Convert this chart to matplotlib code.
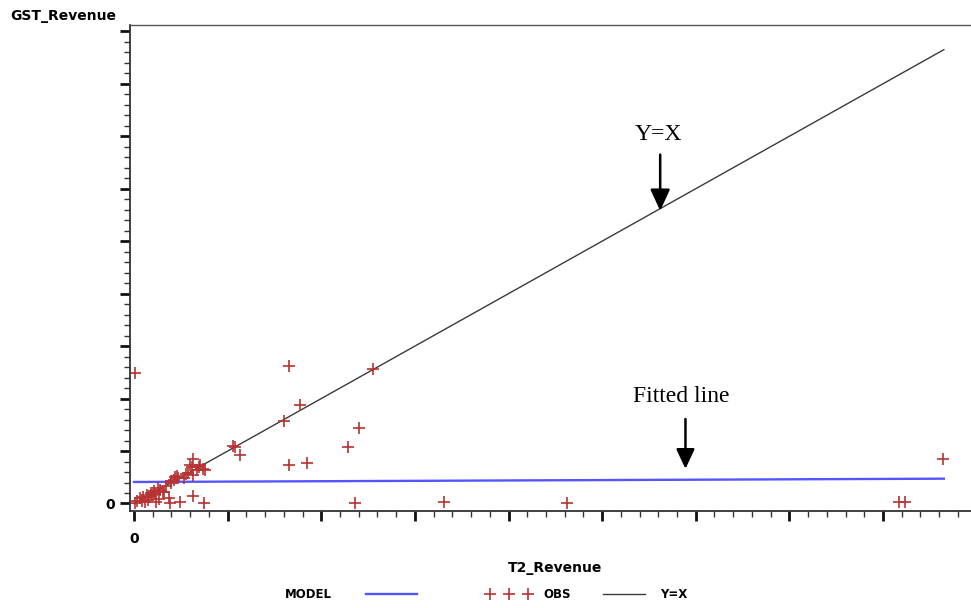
import matplotlib
matplotlib.use("Agg")
import matplotlib.pyplot as plt
from matplotlib.ticker import MultipleLocator, FuncFormatter

# ---- data (units: one major tick) ----
obs_x = [0.01, 0.03, 0.06, 0.09, 0.10, 0.12, 0.135, 0.15, 0.16, 0.18, 0.19, 0.21,
         0.22, 0.24, 0.26, 0.27, 0.28, 0.31, 0.32, 0.34, 0.37, 0.38, 0.40, 0.40,
         0.43, 0.44, 0.46, 0.47, 0.49, 0.53, 0.55, 0.58, 0.60, 0.62, 0.63, 0.63,
         0.63, 0.67, 0.69, 0.70, 0.74, 0.75, 0.76,
         0.01, 1.06, 1.08, 1.13, 1.60, 1.66, 1.66, 1.77, 1.85, 2.29, 2.36, 2.40,
         2.55, 3.31, 4.63, 8.17, 8.23, 8.64]
obs_y = [0.00, 0.04, 0.10, 0.05, 0.12, 0.02, 0.16, 0.07, 0.13, 0.20, 0.16, 0.23,
         0.19, 0.03, 0.29, 0.08, 0.26, 0.21, 0.21, 0.33, 0.10, 0.00, 0.39, 0.43,
         0.45, 0.51, 0.52, 0.48, 0.03, 0.48, 0.56, 0.58, 0.73, 0.70, 0.84, 0.54,
         0.14, 0.64, 0.70, 0.73, 0.66, 0.00, 0.63,
         2.48, 1.10, 1.08, 0.92, 1.58, 2.62, 0.73, 1.88, 0.78, 1.08, 0.00, 1.43,
         2.56, 0.03, 0.00, 0.03, 0.03, 0.85]

model_x = [0.0, 8.65]
model_y = [0.41, 0.473]
yx_x = [0.0, 8.65]
yx_y = [0.0, 8.65]

x_label = "T2_Revenue"
y_label = "GST_Revenue"
legend_title = "MODEL"
legend_labels = ["", "OBS", "Y=X"]

RED = "#b83232"
BLUE = "#5555ff"
GRAY = "#3a3a3a"

fig = plt.figure(figsize=(9.71, 6.08), dpi=100)
ax = fig.add_axes([130 / 971, 1 - 511 / 608, 841 / 971, 486 / 608])

ax.plot(yx_x, yx_y, color=GRAY, lw=1.0)
ax.plot(model_x, model_y, color=BLUE, lw=1.7)
ax.plot(obs_x, obs_y, linestyle="none", marker="+", color=RED,
        markersize=8, markeredgewidth=1.2)

ax.set_xlim(-0.043, 8.94)
ax.set_ylim(-0.143, 9.12)

ax.xaxis.set_major_locator(MultipleLocator(1))
ax.xaxis.set_minor_locator(MultipleLocator(0.2))
ax.yaxis.set_major_locator(MultipleLocator(1))
ax.yaxis.set_minor_locator(MultipleLocator(0.2))
zero_only = FuncFormatter(lambda v, p: "0" if abs(v) < 1e-9 else "")
ax.xaxis.set_major_formatter(zero_only)
ax.yaxis.set_major_formatter(zero_only)

ax.tick_params(which="major", direction="out", length=7, width=2, color="#111111",
               labelsize=10)
ax.tick_params(which="minor", direction="out", length=4, width=1, color="#333333")
ax.tick_params(axis="x", which="major", pad=8)
ax.tick_params(axis="y", which="major", pad=4)
for lab in ax.get_xticklabels() + ax.get_yticklabels():
    lab.set_fontweight("bold")

ax.spines["right"].set_visible(False)
ax.spines["top"].set_color("#555555")
ax.spines["top"].set_linewidth(1.0)
for s in ("left", "bottom"):
    ax.spines[s].set_color("#333333")
    ax.spines[s].set_linewidth(1.3)

ax.set_xlabel(x_label, fontsize=10, fontweight="bold", va="center")
ax.xaxis.set_label_coords((555 - 130) / 841, (511 - 568) / 486)
ax.set_ylabel(y_label, fontsize=10, fontweight="bold", rotation=0,
              ha="left", va="center")
ax.yaxis.set_label_coords((10 - 130) / 841, (511 - 16) / 486)

# annotations
serif = "Liberation Serif"
ax.text(5.60, 7.03, "Y=X", fontsize=17, family=serif, ha="center", va="center")
ax.annotate("", xy=(5.62, 5.58), xytext=(5.62, 6.65),
            arrowprops=dict(arrowstyle="-|>,head_length=0.65,head_width=0.3",
                            mutation_scale=20, lw=1.8, color="black",
                            shrinkA=0, shrinkB=0))
ax.text(5.84, 2.03, "Fitted line", fontsize=17, family=serif, ha="center", va="center")
ax.annotate("", xy=(5.89, 0.66), xytext=(5.89, 1.61),
            arrowprops=dict(arrowstyle="-|>,head_length=0.6,head_width=0.28",
                            mutation_scale=20, lw=1.8, color="black",
                            shrinkA=0, shrinkB=0))

# legend (pixel-space overlay)
lg = fig.add_axes([0, 0, 1, 1], facecolor="none")
lg.set_xlim(0, 971)
lg.set_ylim(608, 0)
lg.axis("off")
ly = 595
lg.text(285, ly, legend_title, fontsize=8.5, fontweight="bold", ha="left", va="center")
lg.plot([366, 417], [ly - 1, ly - 1], color=BLUE, lw=1.7)
lg.text(395, ly, legend_labels[0], fontsize=8.5)
lg.plot([490, 509, 528], [ly - 1] * 3, linestyle="none", marker="+", color=RED,
        markersize=8, markeredgewidth=1.2)
lg.text(543, ly, legend_labels[1], fontsize=8.5, fontweight="bold", ha="left", va="center")
lg.plot([603, 645], [ly - 1, ly - 1], color=GRAY, lw=1.0)
lg.text(660, ly, legend_labels[2], fontsize=8.5, fontweight="bold", ha="left", va="center")

fig.savefig("out.png", dpi=100)
